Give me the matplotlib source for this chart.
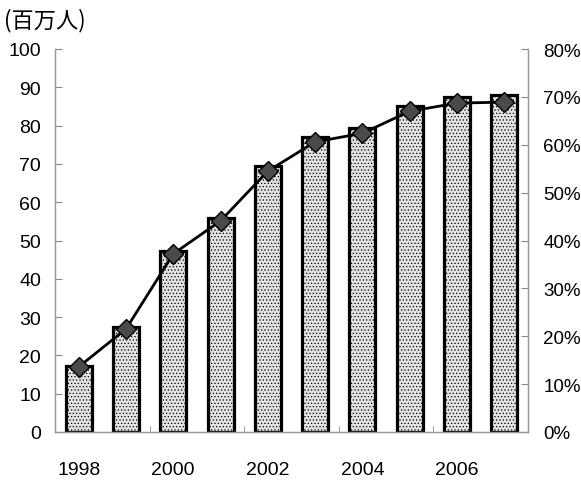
import matplotlib
matplotlib.use("Agg")
import matplotlib.pyplot as plt
import numpy as np

# Users (millions) and penetration rate (%) by year
years = [1998, 1999, 2000, 2001, 2002, 2003, 2004, 2005, 2006, 2007]
users = [17.3, 27.3, 47.3, 55.8, 69.4, 77.0, 79.4, 85.0, 87.4, 88.1]
rate = [13.6, 21.5, 37.2, 44.1, 54.5, 60.6, 62.4, 67.0, 68.7, 68.9]
left_ticks = [0, 10, 20, 30, 40, 50, 60, 70, 80, 90, 100]
right_ticks = [0, 10, 20, 30, 40, 50, 60, 70, 80]
year_labels = ["1998", "2000", "2002", "2004", "2006"]

plt.rcParams['font.family'] = ['Liberation Sans', 'Noto Sans CJK JP', 'DejaVu Sans']
plt.rcParams['hatch.color'] = '#8a8a8a'
plt.rcParams['hatch.linewidth'] = 0.5

W, H = 581, 481
fig = plt.figure(figsize=(W / 100, H / 100), dpi=100)
ax = fig.add_axes([55 / W, (H - 433) / H, (528 - 55) / W, (433 - 50) / H])

x = np.arange(len(years))
ax.bar(x, users, width=0.55, color='#e2e2e2', edgecolor='black',
       linewidth=2.3, hatch='.....', zorder=2)
ax.set_xlim(-0.5, len(years) - 0.5)
ax.set_ylim(0, 100)
ax.set_yticks(left_ticks)
ax.set_yticklabels([str(t) for t in left_ticks], fontsize=14)
ax.tick_params(axis='y', direction='in', length=5, color='#888888', pad=10)

ax.set_xticks(x[::2])
ax.set_xticklabels(year_labels, fontsize=14)
ax.set_xticks([1.5, 3.5, 5.5, 7.5], minor=True)
ax.tick_params(axis='x', which='major', length=0, pad=21)
ax.tick_params(axis='x', which='minor', direction='in', length=4, color='#888888')

ax.spines['top'].set_visible(False)
for side in ('left', 'right', 'bottom'):
    ax.spines[side].set_color('#999999')
    ax.spines[side].set_linewidth(1.0)

ax2 = ax.twinx()
ax2.plot(x, rate, color='black', linewidth=2.0, marker='D', markersize=10,
         markerfacecolor='#4a4a4a', markeredgecolor='black', markeredgewidth=1.0,
         zorder=3)
ax2.set_ylim(0, 80)
ax2.set_yticks(right_ticks)
ax2.set_yticklabels([f"{t}%" for t in right_ticks], fontsize=13.5)
ax2.tick_params(axis='y', direction='in', length=5, color='#888888', pad=11)
ax2.spines['top'].set_visible(False)
for side in ('left', 'right', 'bottom'):
    ax2.spines[side].set_color('#999999')

fig.text(4 / W, 1 - 21 / H, "(百万人)", fontsize=16,
         family=['Noto Sans CJK JP', 'DejaVu Sans'], va='center', ha='left')

fig.savefig("out.png", dpi=100)
